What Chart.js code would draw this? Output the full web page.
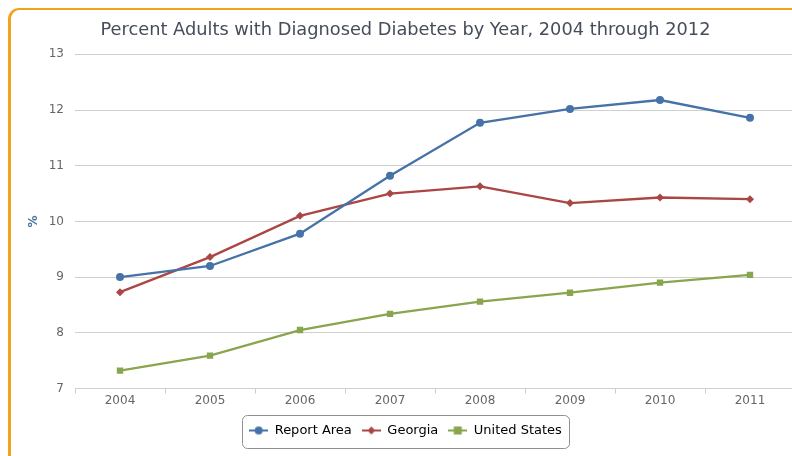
<!DOCTYPE html>
<html>
<head>
<meta charset="utf-8">
<title>Diabetes chart</title>
<script src="https://cdn.jsdelivr.net/npm/chart.js@4.4.0/dist/chart.umd.min.js"></script>
<style>
  html, body { margin: 0; padding: 0; background: #fff; overflow: hidden; }
  #frame {
    position: absolute; left: 8px; top: 8px; width: 820px; height: 470px;
    border-top: 2px solid #f2a31b; border-left: 3px solid #f2a31b;
    border-top-left-radius: 11px;
  }
  #wrap { position: absolute; left: 0; top: 0; width: 800px; height: 456px; }
</style>
</head>
<body>
<div id="frame"></div>
<div id="wrap"><canvas id="chart"></canvas></div>
<script>
const years = ['2004', '2005', '2006', '2007', '2008', '2009', '2010', '2011'];
const reportArea = [9.0, 9.2, 9.78, 10.82, 11.77, 12.02, 12.18, 11.86];
const georgia = [8.73, 9.36, 10.1, 10.5, 10.63, 10.33, 10.43, 10.4];
const unitedStates = [7.32, 7.59, 8.05, 8.34, 8.56, 8.72, 8.9, 9.04];

const seriesNames = ['Report Area', 'Georgia', 'United States'];
const colors = ['#4572a7', '#aa4643', '#89a54e'];
const markers = ['circle', 'rectRot', 'rect'];

// small legend icons: a line with the series marker on it
function legendIcon(color, marker) {
  const c = document.createElement('canvas');
  c.width = 19; c.height = 10;
  const g = c.getContext('2d');
  g.strokeStyle = color; g.fillStyle = color; g.lineWidth = 2;
  g.beginPath(); g.moveTo(0, 5); g.lineTo(19, 5); g.stroke();
  g.beginPath();
  if (marker === 'circle') g.arc(9.5, 5, 4, 0, Math.PI * 2);
  else if (marker === 'rectRot') { g.moveTo(9.5, 1); g.lineTo(13.5, 5); g.lineTo(9.5, 9); g.lineTo(5.5, 5); g.closePath(); }
  else g.rect(5.5, 1, 8, 8);
  g.fill();
  return c;
}

// rounded frame around the legend items
const legendBox = {
  id: 'legendBox',
  afterDraw(chart) {
    const boxes = chart.legend.legendHitBoxes;
    if (!boxes || !boxes.length) return;
    const left = Math.min(...boxes.map(b => b.left)) - 7;
    const right = Math.max(...boxes.map(b => b.left + b.width)) + 7;
    const top = Math.min(...boxes.map(b => b.top)) - 9;
    const bottom = Math.max(...boxes.map(b => b.top + b.height)) + 11;
    const ctx = chart.ctx;
    ctx.save();
    ctx.strokeStyle = '#909090';
    ctx.lineWidth = 1;
    ctx.beginPath();
    ctx.roundRect(Math.round(left) + 0.5, Math.round(top) + 0.5, Math.round(right - left), Math.round(bottom - top), 5);
    ctx.stroke();
    ctx.restore();
  }
};

const datasets = [reportArea, georgia, unitedStates].map((values, i) => ({
  label: seriesNames[i],
  data: values,
  borderColor: colors[i],
  backgroundColor: colors[i],
  borderWidth: 2.3,
  pointStyle: markers[i],
  pointRadius: i === 2 ? 4.5 : 4,
  pointBorderWidth: 0,
  tension: 0
}));

new Chart(document.getElementById('chart'), {
  type: 'line',
  data: { labels: years, datasets: datasets },
  plugins: [legendBox],
  options: {
    responsive: true,
    maintainAspectRatio: false,
    animation: false,
    layout: { padding: { left: 16, right: 5, top: 0, bottom: 9 } },
    plugins: {
      title: {
        display: true,
        text: 'Percent Adults with Diagnosed Diabetes by Year, 2004 through 2012',
        color: '#454d5a',
        font: { family: 'DejaVu Sans', size: 17.8, weight: 'normal' },
        padding: { top: 20, bottom: 13 }
      },
      legend: {
        position: 'bottom',
        labels: {
          color: '#3d4654',
          font: { family: 'DejaVu Sans', size: 13 },
          usePointStyle: true,
          pointStyleWidth: 19,
          padding: 10,
          generateLabels: chart => chart.data.datasets.map((ds, i) => ({
            text: ds.label,
            pointStyle: legendIcon(colors[i], markers[i]),
            fillStyle: colors[i],
            strokeStyle: colors[i],
            lineWidth: 0,
            datasetIndex: i
          }))
        }
      },
      tooltip: { enabled: false }
    },
    scales: {
      x: {
        offset: true,
        grid: { offset: true, drawOnChartArea: false, drawTicks: true, tickLength: 5, color: '#c0d0e0' },
        border: { display: false },
        ticks: { color: '#666', font: { family: 'DejaVu Sans', size: 12 }, padding: 0 },
        afterFit: scale => { scale.height = 25.5; }
      },
      y: {
        min: 7,
        max: 13,
        ticks: { stepSize: 1, color: '#666', font: { family: 'DejaVu Sans', size: 12 }, padding: 11 },
        grid: { color: '#d0d0d0', drawTicks: false },
        border: { display: false },
        title: {
          display: true, text: '%', color: '#4d759e',
          font: { family: 'DejaVu Sans', size: 12, weight: 'bold' },
          padding: { top: 11, bottom: 0 }
        },
        afterFit: scale => { scale.width = 59; }
      }
    }
  }
});
</script>
</body>
</html>
